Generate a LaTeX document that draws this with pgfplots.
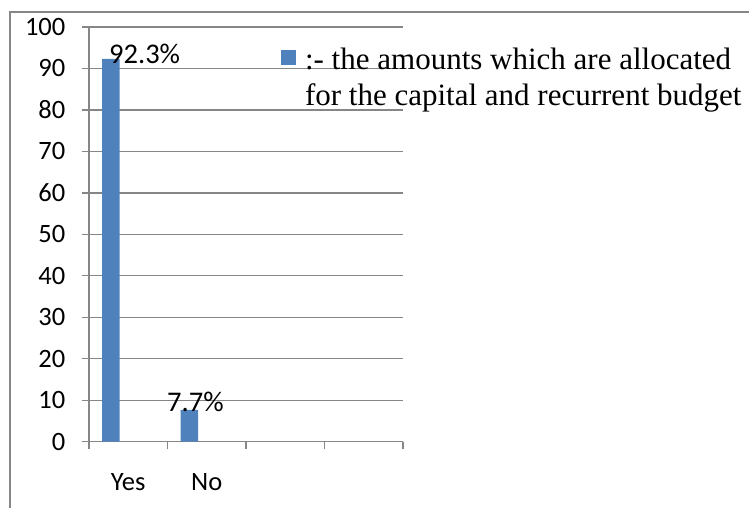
\documentclass[border=0pt]{standalone}
\usepackage{pgfplots}
\pgfplotsset{compat=1.18}
\usepackage{fontspec}
\setmainfont{Liberation Serif}
\newfontfamily\calfont{Carlito}
\definecolor{barblue}{HTML}{4F81BD}
\definecolor{axgray}{HTML}{868686}
\begin{document}
\begin{tikzpicture}
\useasboundingbox (0,0) rectangle (749pt,-507pt);
% outer chart frame (only left and top edges visible)
\draw[axgray, line width=1.6pt] (10pt,-530pt) -- (10pt,-12pt) -- (770pt,-12pt);
\begin{axis}[
  at={(89pt,-441.7pt)}, anchor=south west,
  scale only axis, width=314pt, height=414.7pt,
  xmin=0, xmax=4, ymin=0, ymax=100,
  axis x line=bottom, axis y line=left,
  axis line style={draw=axgray, line width=1.3pt, -},
  xtick={0,1,2,3,4}, xticklabels={Yes,No,{},{}}, x tick label as interval,
  ytick={0,10,...,100},
  ymajorgrids, grid style={axgray, line width=1.3pt},
  tick align=outside, major tick length=7.5pt,
  tick style={axgray, line width=1.3pt},
  /pgf/number format/assume math mode=true,
  ticklabel style={font=\calfont\fontsize{26.5}{30}\selectfont, inner sep=0pt},
  yticklabel style={anchor=east, xshift=-16pt},
  xticklabel style={anchor=base, yshift=-41pt},
  ybar, bar width=17.5pt, bar shift=-17.5pt,
  legend image code/.code={\fill[#1] (0pt,12.5pt) rectangle (15pt,27.5pt);},
  legend style={at={(0.611,0.955)}, anchor=north west, draw=none, fill=none,
    inner sep=0pt, font=\fontsize{31}{36}\selectfont, column sep=7pt,
    cells={align=left, anchor=west}},
]
\addplot[fill=barblue, draw=none] coordinates {(0.5,92.3) (1.5,7.7)};
\addlegendentry{:- the amounts which are allocated\\for the capital and recurrent budget}
\node[anchor=base west, inner sep=0pt, font=\calfont\fontsize{28.5}{30}\selectfont] at (axis cs:0.255,91.25) {92.3\%};
\node[anchor=base west, inner sep=0pt, font=\calfont\fontsize{28.5}{30}\selectfont] at (axis cs:0.994,7.4) {7.7\%};
\end{axis}
\end{tikzpicture}
\end{document}
